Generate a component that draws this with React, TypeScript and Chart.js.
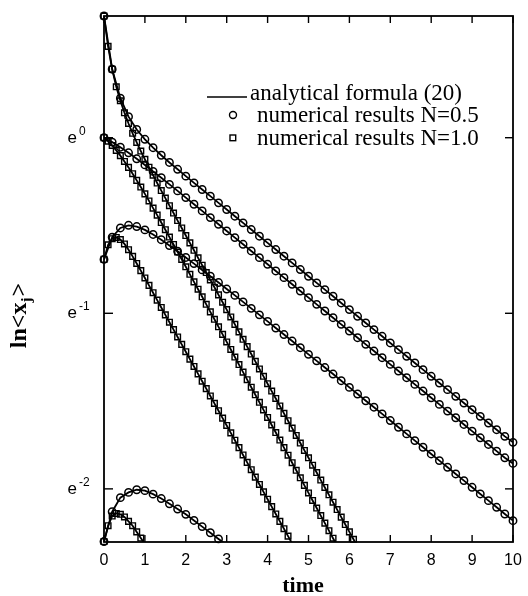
import React, { useEffect, useRef } from "react";
import { Chart, registerables } from "chart.js";

Chart.register(...registerables);

// sampling times of the numerical results
const tCircle = [
  0, 0.2, 0.4, 0.6, 0.8, 1.0, 1.2, 1.4, 1.6, 1.8, 2.0, 2.2, 2.4, 2.6, 2.8, 3.0, 3.2, 3.4, 3.6, 3.8,
  4.0, 4.2, 4.4, 4.6, 4.8, 5.0, 5.2, 5.4, 5.6, 5.8, 6.0, 6.2, 6.4, 6.6, 6.8, 7.0, 7.2, 7.4, 7.6, 7.8,
  8.0, 8.2, 8.4, 8.6, 8.8, 9.0, 9.2, 9.4, 9.6, 9.8, 10.0,
];
const tSquare = [
  0, 0.1, 0.2, 0.3, 0.4, 0.5, 0.6, 0.7, 0.8, 0.9, 1.0, 1.1, 1.2, 1.3, 1.4, 1.5, 1.6, 1.7, 1.8, 1.9,
  2.0, 2.1, 2.2, 2.3, 2.4, 2.5, 2.6, 2.7, 2.8, 2.9, 3.0, 3.1, 3.2, 3.3, 3.4, 3.5, 3.6, 3.7, 3.8, 3.9,
  4.0, 4.1, 4.2, 4.3, 4.4, 4.5, 4.6, 4.7, 4.8, 4.9, 5.0, 5.1, 5.2, 5.3, 5.4, 5.5, 5.6, 5.7, 5.8, 5.9,
  6.0, 6.1, 6.2,
];

// ln<x_j>, N = 0.5 (circles)
const lnN05_1 = [
  0.693, 0.39, 0.225, 0.12, 0.047, -0.009, -0.057, -0.1, -0.141, -0.18, -0.219, -0.257, -0.295,
  -0.333, -0.371, -0.409, -0.447, -0.485, -0.523, -0.561, -0.599, -0.637, -0.675, -0.713, -0.751,
  -0.789, -0.827, -0.865, -0.903, -0.941, -0.979, -1.017, -1.055, -1.093, -1.131, -1.169, -1.207,
  -1.245, -1.283, -1.321, -1.359, -1.397, -1.435, -1.473, -1.511, -1.549, -1.587, -1.625, -1.663,
  -1.701, -1.735,
];
const lnN05_2 = [
  0, -0.025, -0.054, -0.086, -0.12, -0.155, -0.192, -0.228, -0.266, -0.303, -0.341, -0.379, -0.417,
  -0.455, -0.493, -0.531, -0.569, -0.607, -0.645, -0.683, -0.721, -0.759, -0.797, -0.835, -0.873,
  -0.911, -0.949, -0.987, -1.025, -1.063, -1.101, -1.139, -1.177, -1.215, -1.253, -1.291, -1.329,
  -1.367, -1.405, -1.443, -1.481, -1.519, -1.557, -1.595, -1.633, -1.671, -1.709, -1.747, -1.785,
  -1.823, -1.855,
];
const lnN05_3 = [
  -0.693, -0.567, -0.514, -0.499, -0.506, -0.525, -0.551, -0.581, -0.614, -0.647, -0.682, -0.717,
  -0.753, -0.789, -0.825, -0.862, -0.898, -0.935, -0.972, -1.009, -1.046, -1.084, -1.121, -1.158,
  -1.196, -1.234, -1.271, -1.309, -1.346, -1.384, -1.422, -1.46, -1.498, -1.535, -1.573, -1.611,
  -1.649, -1.687, -1.725, -1.763, -1.801, -1.839, -1.877, -1.915, -1.953, -1.991, -2.029, -2.067,
  -2.105, -2.143, -2.181,
];
const lnN05_4 = [
  -2.3, -2.13, -2.05, -2.02, -2.005, -2.01, -2.03, -2.055, -2.085, -2.115, -2.145, -2.18, -2.215,
  -2.25, -2.285, -2.32,
];

// ln<x_j>, N = 1.0 (squares)
const lnN10_1 = [
  0.693, 0.52, 0.39, 0.29, 0.21, 0.142, 0.081, 0.025, -0.027, -0.076, -0.123, -0.168, -0.213,
  -0.258, -0.301, -0.344, -0.387, -0.429, -0.472, -0.514, -0.557, -0.599, -0.641, -0.684, -0.726,
  -0.768, -0.81, -0.852, -0.895, -0.937, -0.979, -1.021, -1.063, -1.106, -1.148, -1.19, -1.232,
  -1.274, -1.317, -1.359, -1.401, -1.443, -1.485, -1.528, -1.57, -1.612, -1.654, -1.696, -1.739,
  -1.781, -1.823, -1.865, -1.907, -1.95, -1.992, -2.034, -2.076, -2.118, -2.161, -2.203, -2.245,
  -2.287, -2.329,
];
const lnN10_2 = [
  0, -0.02, -0.044, -0.072, -0.102, -0.135, -0.169, -0.205, -0.243, -0.281, -0.32, -0.36, -0.401,
  -0.441, -0.483, -0.524, -0.566, -0.608, -0.651, -0.693, -0.735, -0.778, -0.821, -0.863, -0.906,
  -0.949, -0.992, -1.034, -1.077, -1.12, -1.163, -1.206, -1.249, -1.292, -1.335, -1.378, -1.421,
  -1.464, -1.507, -1.55, -1.593, -1.636, -1.679, -1.722, -1.765, -1.808, -1.851, -1.894, -1.937,
  -1.98, -2.023, -2.066, -2.109, -2.152, -2.195, -2.238, -2.281, -2.324,
];
const lnN10_3 = [
  -0.693, -0.61, -0.575, -0.568, -0.58, -0.605, -0.638, -0.676, -0.716, -0.757, -0.799, -0.841,
  -0.883, -0.925, -0.967, -1.009, -1.051, -1.093, -1.135, -1.177, -1.219, -1.261, -1.303, -1.345,
  -1.387, -1.429, -1.471, -1.513, -1.555, -1.597, -1.639, -1.681, -1.723, -1.765, -1.807, -1.849,
  -1.891, -1.933, -1.975, -2.017, -2.059, -2.101, -2.143, -2.185, -2.227, -2.269, -2.311,
];
const lnN10_4 = [
  -2.3, -2.21, -2.155, -2.14, -2.145, -2.16, -2.185, -2.21, -2.245, -2.28, -2.315,
];

const xTicks = [0, 1, 2, 3, 4, 5, 6, 7, 8, 9, 10];
const yTicks = [0, -1, -2];
const yTickExponents = ["0", "-1", "-2"];
const Y_MIN = -2.302585; // ln 0.1
const Y_MAX = 0.693147; // ln 2

const legendLabels = [
  "analytical formula (20)",
  "numerical results N=0.5",
  "numerical results N=1.0",
];

const circleSeries = [lnN05_1, lnN05_2, lnN05_3, lnN05_4];
const squareSeries = [lnN10_1, lnN10_2, lnN10_3, lnN10_4];

function pairs(t: number[], v: number[]) {
  return v.map((y, i) => ({ x: t[i], y }));
}
function inRange(p: { x: number; y: number }) {
  return p.y >= Y_MIN - 0.002 && p.y <= Y_MAX + 0.002;
}

const SERIF = '"Liberation Serif", "Times New Roman", serif';
const SANS = '"Liberation Sans", Arial, Helvetica, sans-serif';

const decorPlugin = {
  id: "decor",
  afterDraw(chart: any) {
    const { ctx, chartArea: a, scales } = chart;
    const xs = scales.x;
    const ys = scales.y;
    ctx.save();
    ctx.strokeStyle = "#000";
    ctx.fillStyle = "#000";

    const seg = (x1: number, y1: number, x2: number, y2: number) => {
      ctx.beginPath();
      ctx.moveTo(x1, y1);
      ctx.lineTo(x2, y2);
      ctx.stroke();
    };

    // frame
    ctx.lineWidth = 1.8;
    ctx.strokeRect(a.left, a.top, a.right - a.left, a.bottom - a.top);

    // inward ticks
    ctx.lineWidth = 1.4;
    xTicks.forEach((v) => {
      const px = xs.getPixelForValue(v);
      seg(px, a.bottom, px, a.bottom - 7);
      seg(px, a.top, px, a.top + 7);
    });
    yTicks.forEach((v) => {
      const py = ys.getPixelForValue(v);
      seg(a.left, py, a.left + 9, py);
      seg(a.right, py, a.right - 8, py);
    });

    // x tick labels
    ctx.font = `16px ${SANS}`;
    ctx.textAlign = "center";
    ctx.textBaseline = "middle";
    xTicks.forEach((v) => {
      ctx.fillText(String(v), xs.getPixelForValue(v), a.bottom + 19);
    });

    // y tick labels e^n
    ctx.textBaseline = "alphabetic";
    yTicks.forEach((v, i) => {
      const py = ys.getPixelForValue(v);
      ctx.font = `17px ${SANS}`;
      ctx.textAlign = "right";
      ctx.fillText("e", 77, py + 5);
      ctx.font = `12px ${SANS}`;
      ctx.textAlign = "left";
      ctx.fillText(yTickExponents[i], 79, py - 3);
    });

    // x title
    ctx.font = `bold 22px ${SERIF}`;
    ctx.textAlign = "center";
    ctx.fillText("time", 303, 592);

    // y title ln<x_j>
    ctx.save();
    ctx.translate(26, 316);
    ctx.rotate(-Math.PI / 2);
    ctx.textAlign = "left";
    const fMain = `bold 24px ${SERIF}`;
    const fSub = `bold 15px ${SERIF}`;
    ctx.font = fMain;
    const w1 = ctx.measureText("ln<x").width;
    const w3 = ctx.measureText(">").width;
    ctx.font = fSub;
    const w2 = ctx.measureText("j").width;
    const sx = -(w1 + w2 + w3) / 2;
    ctx.font = fMain;
    ctx.fillText("ln<x", sx, 0);
    ctx.font = fSub;
    ctx.fillText("j", sx + w1, 5);
    ctx.font = fMain;
    ctx.fillText(">", sx + w1 + w2 + 1, 0);
    ctx.restore();

    // legend
    ctx.font = `23px ${SERIF}`;
    ctx.textAlign = "left";
    ctx.textBaseline = "alphabetic";
    ctx.lineWidth = 1.7;
    seg(207, 97, 247, 97);
    ctx.fillText(legendLabels[0], 250, 100);
    ctx.lineWidth = 1.4;
    ctx.beginPath();
    ctx.arc(233, 115, 3.5, 0, Math.PI * 2);
    ctx.stroke();
    ctx.fillText(legendLabels[1], 257, 122);
    ctx.strokeRect(230, 135, 5.7, 5.7);
    ctx.fillText(legendLabels[2], 257, 145);

    ctx.restore();
  },
};

export default function App() {
  const ref = useRef<HTMLCanvasElement | null>(null);

  useEffect(() => {
    if (!ref.current) return;
    const datasets: any[] = [];
    circleSeries.forEach((s) => {
      const pts = pairs(tCircle, s);
      datasets.push({
        data: pts,
        showLine: true,
        borderColor: "#000",
        borderWidth: 1.8,
        pointRadius: 0,
        tension: 0,
      });
      datasets.push({
        data: pts.filter(inRange),
        showLine: false,
        pointStyle: "circle",
        pointRadius: 3.7,
        pointBorderWidth: 1.5,
        pointBorderColor: "#000",
        pointBackgroundColor: "rgba(0,0,0,0)",
        clip: false,
      });
    });
    squareSeries.forEach((s) => {
      const pts = pairs(tSquare, s);
      datasets.push({
        data: pts,
        showLine: true,
        borderColor: "#000",
        borderWidth: 1.8,
        pointRadius: 0,
        tension: 0,
      });
      datasets.push({
        data: pts.filter(inRange),
        showLine: false,
        pointStyle: "rect",
        pointRadius: 4,
        pointBorderWidth: 1.4,
        pointBorderColor: "#000",
        pointBackgroundColor: "rgba(0,0,0,0)",
        clip: false,
      });
    });

    const chart = new Chart(ref.current, {
      type: "scatter",
      data: { datasets },
      options: {
        animation: false,
        responsive: false,
        events: [],
        layout: { padding: { left: 104, right: 15, top: 16, bottom: 54 } },
        scales: {
          x: { type: "linear", min: 0, max: 10, display: false },
          y: { type: "linear", min: Y_MIN, max: Y_MAX, display: false },
        },
        plugins: { legend: { display: false }, tooltip: { enabled: false } },
      },
      plugins: [decorPlugin],
    });
    return () => chart.destroy();
  }, []);

  return (
    <div style={{ position: "absolute", left: 0, top: 0, width: 528, height: 596 }}>
      <canvas ref={ref} width={528} height={596} style={{ display: "block" }} />
    </div>
  );
}
